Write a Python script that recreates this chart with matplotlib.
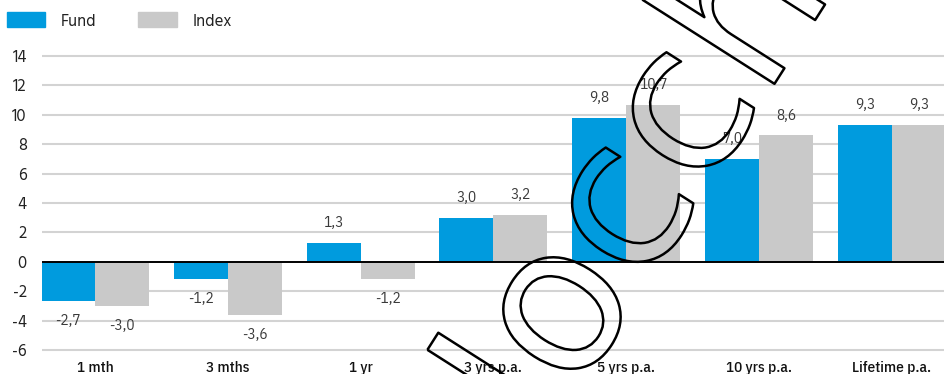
import matplotlib
matplotlib.use("Agg")
import matplotlib.pyplot as plt
import matplotlib.patheffects as pe
from matplotlib.patches import Patch
from matplotlib.font_manager import FontProperties
from matplotlib.textpath import TextPath
import numpy as np

categories = ["1 mth", "3 mths", "1 yr", "3 yrs p.a.", "5 yrs p.a.", "10 yrs p.a.", "Lifetime p.a."]
fund = [-2.7, -1.2, 1.3, 3.0, 9.8, 7.0, 9.3]
index = [-3.0, -3.6, -1.2, 3.2, 10.7, 8.6, 9.3]
yticks = [-6, -4, -2, 0, 2, 4, 6, 8, 10, 12, 14]

FUND_COLOR = "#009bde"
INDEX_COLOR = "#c9c9c9"
GRID_COLOR = "#d3d3d3"
COND_FONT = ["IBM Plex Sans Condensed", "DejaVu Sans"]
TICK_FONT = ["Hind Siliguri", "DejaVu Sans"]

W, H = 944, 374
fig = plt.figure(figsize=(W / 100, H / 100), dpi=100)
fig.patch.set_facecolor("white")

# axes placed in pixels: x from 42 to the right edge, y gridlines -6..14 at 350..56
ax = fig.add_axes([42 / W, 1 - 352.94 / H, 1 - 42 / W, (352.94 - 53.06) / H])
ax.set_xlim(-0.399, 6.393)
ax.set_ylim(-6.2, 14.2)

x = np.arange(len(categories))
bw = 0.407
b1 = ax.bar(x - bw / 2, fund, width=bw, color=FUND_COLOR, zorder=2)
b2 = ax.bar(x + bw / 2, index, width=bw, color=INDEX_COLOR, zorder=2)

for bars, vals in ((b1, fund), (b2, index)):
    for rect, v in zip(bars, vals):
        off = 14.3 if v >= 0 else -14.3
        ax.annotate(f"{v:.1f}".replace(".", ","),
                    (rect.get_x() + rect.get_width() / 2, v),
                    xytext=(0, off), textcoords="offset points",
                    ha="center", va="center", fontsize=11,
                    family=COND_FONT, weight="normal", color="#3a3a3a", zorder=4)

for t in yticks:
    if t == 0:
        continue
    ax.axhline(t, color=GRID_COLOR, lw=1.5, zorder=1)
ax.axhline(0, color="black", lw=1.4, zorder=3)

for s in ax.spines.values():
    s.set_visible(False)
ax.set_yticks(yticks)
ax.set_yticklabels([str(t) for t in yticks], family=TICK_FONT, fontsize=12, color="#222222")
ax.set_xticks(x)
ax.set_xticklabels(categories, family=COND_FONT, weight=500, fontsize=11, color="#111111")
ax.tick_params(axis="y", length=0, pad=11)
ax.tick_params(axis="x", length=0, pad=6)

handles = [Patch(color=FUND_COLOR, label="Fund"), Patch(color=INDEX_COLOR, label="Index")]
fig.legend(handles=handles, loc="center left", bbox_to_anchor=(7 / W, 1 - 20.5 / H),
           ncol=2, frameon=False, prop={"family": TICK_FONT, "size": 12},
           handlelength=2.3, handleheight=1.0, handletextpad=0.95,
           columnspacing=2.5, borderpad=0, borderaxespad=0, labelcolor="#222222")

# outlined watermark across the chart: size it so the "o" is ~118 px tall
# and its centre sits at pixel (562, 313)
wm_text = "Iocchi"
wm_family = "DejaVu Sans"
wm_prop = FontProperties(family=wm_family)
ext_o = TextPath((0, 0), "o", size=1, prop=wm_prop).get_extents()
ext_io = TextPath((0, 0), "Io", size=1, prop=wm_prop).get_extents()
size_px = 118 / ext_o.height
o_cx = (ext_io.x1 - ext_o.width / 2) * size_px
o_cy = (ext_o.y0 + ext_o.y1) / 2 * size_px
ang = np.deg2rad(57.5)
base = np.array([np.cos(ang), np.sin(ang)])
up = np.array([-np.sin(ang), np.cos(ang)])
start = np.array([562, H - 313]) - o_cx * base - o_cy * up
fig.text(start[0] / W, start[1] / H, wm_text, rotation=57.5, rotation_mode="anchor",
         ha="left", va="baseline", fontsize=size_px * 72 / 100, family=wm_family,
         color=(0, 0, 0, 0), zorder=10,
         path_effects=[pe.withStroke(linewidth=1.8, foreground="black")])

fig.savefig("out.png", dpi=100)
